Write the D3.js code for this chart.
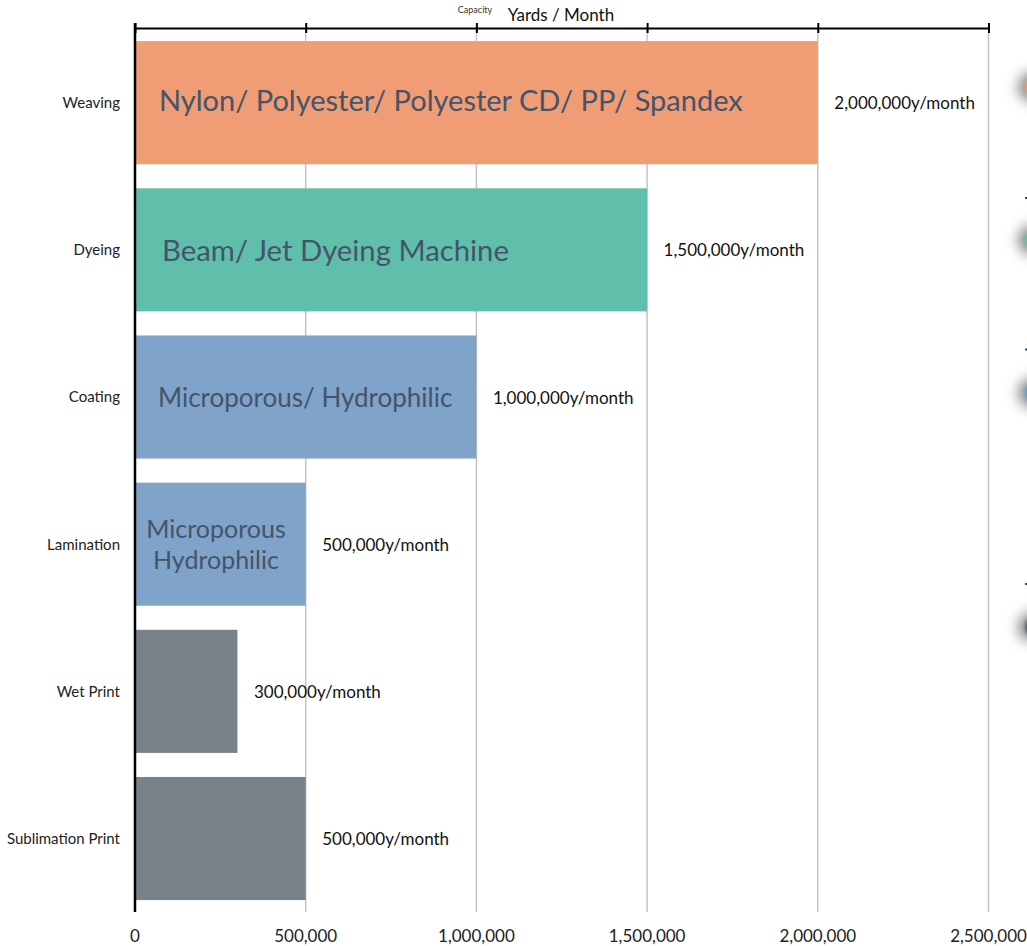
<!DOCTYPE html>
<html><head><meta charset="utf-8">
<script src="https://cdn.jsdelivr.net/npm/d3@7/dist/d3.min.js"></script>
<style>html,body{margin:0;padding:0;background:#fff;overflow:hidden}svg{display:block}text{font-family:Lato,"Open Sans",sans-serif}</style>
</head><body><svg id="c" width="1027" height="946"></svg>
<script>
const categories=["Weaving","Dyeing","Coating","Lamination","Wet Print","Sublimation Print"];
const values=[2000000,1500000,1000000,500000,300000,500000];
const colors=["#F09C75","#60BFAB","#7FA3C9","#7FA3C9","#78828B","#78828B"];
const valueLabels=["2,000,000y/month","1,500,000y/month","1,000,000y/month","500,000y/month","300,000y/month","500,000y/month"];
const innerLabels=[["Nylon/ Polyester/ Polyester CD/ PP/ Spandex"],["Beam/ Jet Dyeing Machine"],["Microporous/ Hydrophilic"],["Microporous","Hydrophilic"],[],[]];
const innerSizes=[29,29.3,26,25,0,0];
const innerX=[159,162,158,216,0,0];
const innerDy=[8,11,10,9,0,0];
const tickValues=[0,500000,1000000,1500000,2000000,2500000];
const blobs=[{c:"#F09C75",y:87,d:null},{c:"#60BFAB",y:240,d:198},{c:"#6C9BCB",y:393,d:349.5},{c:"#5A6470",y:627,d:584}];

const svg=d3.select("#c");
const x=d3.scaleLinear().domain([0,2500000]).range([135,988.5]);
const y=d3.scaleBand().domain(categories).range([29.1,912.1]).paddingInner(0.1635).paddingOuter(0.0817);
const fmt=d3.format(",");
const ink="#000";

svg.append("g").selectAll("line").data(tickValues.slice(1)).join("line")
 .attr("x1",d=>x(d)).attr("x2",d=>x(d)).attr("y1",28).attr("y2",912)
 .attr("stroke","#C4C4C4").attr("stroke-width",1.5);

svg.append("g").selectAll("rect").data(categories).join("rect")
 .attr("x",x(0)).attr("y",d=>y(d)).attr("width",(d,i)=>x(values[i])-x(0)).attr("height",y.bandwidth())
 .attr("fill",(d,i)=>colors[i]);

const topAxis=svg.append("g").attr("transform","translate(0,28)")
 .call(d3.axisTop(x).tickValues(tickValues).tickFormat("").tickSize(5).tickSizeOuter(0));
topAxis.selectAll("path").attr("stroke",ink).attr("stroke-width",2);
topAxis.selectAll("line").attr("stroke",ink).attr("stroke-width",2).attr("y1",5).attr("y2",-5);

const leftAxis=svg.append("g").attr("transform","translate(135,0)")
 .call(d3.axisLeft(y).tickSize(0).tickPadding(15));
leftAxis.select("path").attr("d","M0,23V912").attr("stroke",ink).attr("stroke-width",2.5);
leftAxis.selectAll("text").attr("font-size",15).attr("fill","#222").style("font-family","Lato").attr("dy","0.36em");

svg.append("g").selectAll("text").data(tickValues).join("text")
 .attr("x",d=>x(d)).attr("y",942).attr("text-anchor","middle")
 .attr("font-size",17).attr("fill","#222").text(d=>fmt(d));

svg.append("g").selectAll("text").data(categories).join("text")
 .attr("x",(d,i)=>x(values[i])+16.5).attr("y",d=>y(d)+y.bandwidth()/2+6.5)
 .attr("font-size",17).attr("fill","#111").text((d,i)=>valueLabels[i]);

categories.forEach((c,i)=>{
 const n=innerLabels[i].length;
 innerLabels[i].forEach((t,j)=>{
  svg.append("text").attr("x",innerX[i]).attr("y",y(c)+y.bandwidth()/2+innerDy[i]+(j-(n-1)/2)*31)
   .attr("text-anchor",n>1?"middle":"start").attr("font-size",innerSizes[i]).attr("fill","#44546A").text(t);
 });
});

svg.append("text").attr("x",475).attr("y",13).attr("text-anchor","middle").attr("font-size",9).attr("fill","#333").text("Capacity");
svg.append("text").attr("x",561).attr("y",21).attr("text-anchor","middle").attr("font-size",17).attr("fill","#111").text("Yards / Month");

const defs=svg.append("defs");
const f=defs.append("filter").attr("id","bl").attr("x","-100%").attr("y","-100%").attr("width","300%").attr("height","300%");
f.append("feGaussianBlur").attr("stdDeviation",6.5);
const g=defs.append("filter").attr("id","bs").attr("x","-50%").attr("y","-50%").attr("width","200%").attr("height","200%");
g.append("feGaussianBlur").attr("stdDeviation",1.5);
blobs.forEach(b=>{
 svg.append("circle").attr("cx",1033).attr("cy",b.y).attr("r",15).attr("fill","#888").attr("filter","url(#bl)");
 svg.append("circle").attr("cx",1036).attr("cy",b.y).attr("r",11).attr("fill",b.c).attr("filter","url(#bs)");
 if(b.d) svg.append("rect").attr("x",1025).attr("y",b.d-1).attr("width",2).attr("height",2).attr("fill","#1F4E79");
});
</script></body></html>
